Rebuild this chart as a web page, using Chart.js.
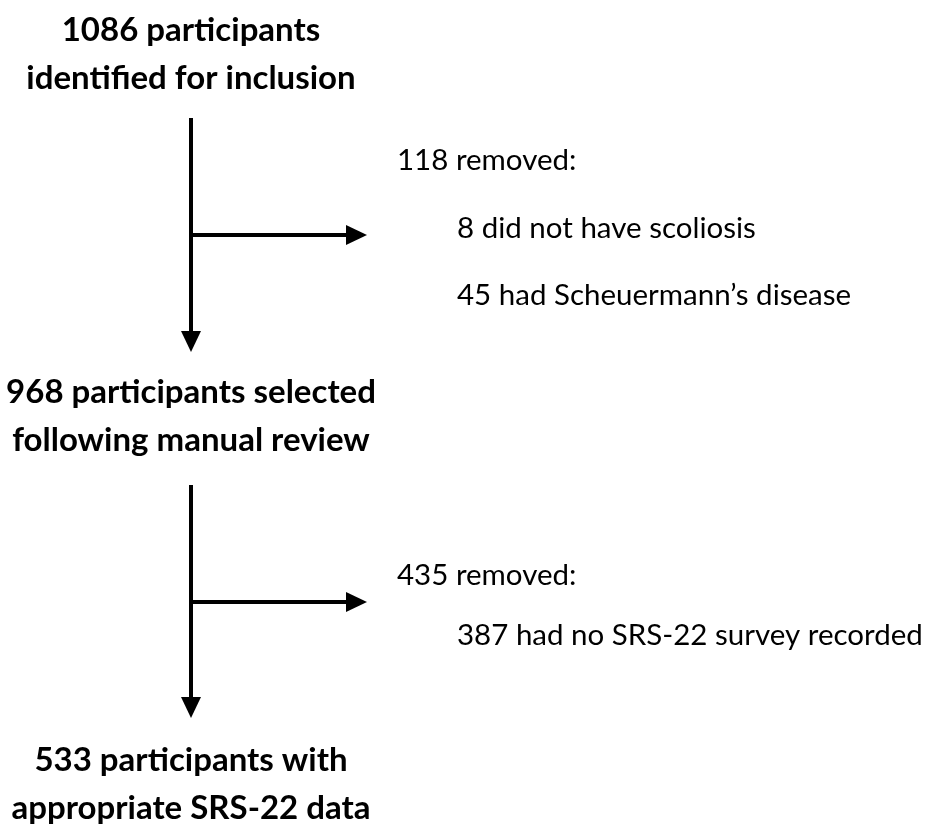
<!DOCTYPE html>
<html>
<head>
<meta charset="utf-8">
<script src="https://cdn.jsdelivr.net/npm/chart.js@4.4.1/dist/chart.umd.min.js"></script>
<style>
  html, body { margin: 0; padding: 0; background: #fff; }
  #wrap { width: 932px; height: 828px; }
</style>
</head>
<body>
<div id="wrap"><canvas id="flow" width="932" height="828"></canvas></div>
<script>
// ===== Flow data =====
const stageLines = [
  ["1086 participants", "identified for inclusion"],
  ["968 participants selected", "following manual review"],
  ["533 participants with", "appropriate SRS-22 data"]
];
const removedTotals = [118, 435];
const removedReasons = [
  ["8 did not have scoliosis", "45 had Scheuermann\u2019s disease"],
  ["387 had no SRS-22 survey recorded"]
];

// ===== Layout (page coords, y downward) =====
const W = 932, H = 828;
const colX = 191;
const stageY = [[30, 78], [392, 440], [760, 808]];
const downArrow = [[118, 352], [485, 718]];   // shaft start, tip
const branchY = [235, 602];
const branchTipX = 367;
const headLen = 21, headHalf = 10, lineW = 4;
const removedX = 397, reasonX = 457;
const removedY = [160, 575];
const reasonY = [[228, 295], [635]];

const FONT = "Lato, 'Open Sans', sans-serif";
const BOLD = "bold 33px " + FONT;
const REG = "29.5px " + FONT;

// arrows as line datasets: shaft ends where the head starts
const arrows = [];
downArrow.forEach(([y0, tip], i) => {
  arrows.push({ dir: "down", tip: { x: colX, y: tip }, pts: [{ x: colX, y: y0 }, { x: colX, y: tip - headLen + 2 }] });
  arrows.push({ dir: "right", tip: { x: branchTipX, y: branchY[i] }, pts: [{ x: colX, y: branchY[i] }, { x: branchTipX - headLen + 2, y: branchY[i] }] });
});

const datasets = arrows.map(a => ({
  data: a.pts,
  showLine: true,
  borderColor: "#000",
  borderWidth: lineW,
  pointRadius: 0,
  borderCapStyle: "butt"
}));

// arrowheads + text labels drawn through the chart scales
const flowPlugin = {
  id: "flowPlugin",
  afterDatasetsDraw(chart) {
    const { ctx, scales: { x, y } } = chart;
    const px = v => x.getPixelForValue(v), py = v => y.getPixelForValue(v);
    ctx.save();
    ctx.fillStyle = "#000";
    arrows.forEach(a => {
      const tx = px(a.tip.x), ty = py(a.tip.y);
      ctx.beginPath();
      if (a.dir === "down") {
        ctx.moveTo(tx, ty);
        ctx.lineTo(tx - headHalf, ty - headLen);
        ctx.lineTo(tx + headHalf, ty - headLen);
      } else {
        ctx.moveTo(tx, ty);
        ctx.lineTo(tx - headLen, ty - headHalf);
        ctx.lineTo(tx - headLen, ty + headHalf);
      }
      ctx.closePath();
      ctx.fill();
    });

    ctx.textBaseline = "middle";
    ctx.textAlign = "center";
    ctx.font = BOLD;
    stageLines.forEach((lines, i) => {
      lines.forEach((t, j) => ctx.fillText(t, px(colX), py(stageY[i][j])));
    });

    ctx.textAlign = "left";
    ctx.font = REG;
    removedTotals.forEach((n, i) => {
      ctx.fillText(n + " removed:", px(removedX), py(removedY[i]));
      removedReasons[i].forEach((t, j) => ctx.fillText(t, px(reasonX), py(reasonY[i][j])));
    });
    ctx.restore();
  }
};

new Chart(document.getElementById("flow"), {
  type: "scatter",
  data: { datasets },
  options: {
    responsive: false,
    animation: false,
    layout: { padding: 0 },
    plugins: { legend: { display: false }, tooltip: { enabled: false } },
    scales: {
      x: { type: "linear", min: 0, max: W, display: false },
      y: { type: "linear", min: 0, max: H, reverse: true, display: false }
    }
  },
  plugins: [flowPlugin]
});
</script>
</body>
</html>
